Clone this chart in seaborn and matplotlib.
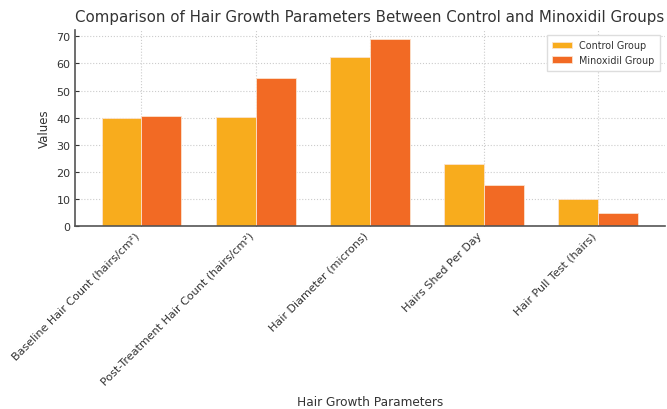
import matplotlib
matplotlib.use("Agg")
import matplotlib.pyplot as plt
import seaborn as sns
import pandas as pd

categories = [
    "Baseline Hair Count (hairs/cm²)",
    "Post-Treatment Hair Count (hairs/cm²)",
    "Hair Diameter (microns)",
    "Hairs Shed Per Day",
    "Hair Pull Test (hairs)",
]
control_values = [40.0, 40.2, 62.3, 22.8, 10.0]
minoxidil_values = [40.5, 54.5, 69.0, 15.0, 5.0]
group_names = ["Control Group", "Minoxidil Group"]
group_colors = ["#F8AC1D", "#F26A24"]

df = pd.DataFrame({
    "Parameter": categories * 2,
    "Value": control_values + minoxidil_values,
    "Group": [group_names[0]] * len(categories) + [group_names[1]] * len(categories),
})

sns.set_theme(style="whitegrid")
plt.rcParams["font.family"] = ["DejaVu Sans"]
plt.rcParams["text.color"] = "#333333"
plt.rcParams["axes.labelcolor"] = "#333333"
plt.rcParams["xtick.color"] = "#333333"
plt.rcParams["ytick.color"] = "#333333"

fig = plt.figure(figsize=(6.67, 4.10), dpi=100)
ax = fig.add_axes([0.112, 0.446, 0.885, 0.479])

sns.barplot(
    data=df, x="Parameter", y="Value", hue="Group",
    order=categories, hue_order=group_names,
    palette=group_colors, width=0.7, gap=0,
    edgecolor="#fbe3cf", linewidth=0.6, saturation=1, ax=ax,
)

ax.set_xlim(-0.585, len(categories) - 1 + 0.585)
ax.set_ylim(0, 72.45)
ax.set_yticks(range(0, 71, 10))

ax.grid(True, linestyle=":", color="#cccccc", linewidth=0.8)
ax.set_axisbelow(True)
for side in ["top", "right"]:
    ax.spines[side].set_visible(False)
for side in ["left", "bottom"]:
    ax.spines[side].set_color("#555555")
    ax.spines[side].set_linewidth(1.2)

ax.tick_params(axis="both", direction="in", length=3, width=0.8,
               labelsize=8, colors="#333333", bottom=True, left=True, pad=3)
plt.setp(ax.get_xticklabels(), rotation=45, ha="right", rotation_mode="default")

ax.set_title("Comparison of Hair Growth Parameters Between Control and Minoxidil Groups",
             fontsize=10.8, color="#333333", pad=6)
ax.set_xlabel("Hair Growth Parameters", fontsize=8.7, labelpad=6)
ax.set_ylabel("Values", fontsize=8.5, labelpad=4)

leg = ax.legend(loc="upper right", fontsize=6.9, frameon=True, fancybox=False,
                edgecolor="#dddddd", framealpha=1, borderpad=0.6)
leg.set_title(None)

fig.savefig("out.png", dpi=100)
